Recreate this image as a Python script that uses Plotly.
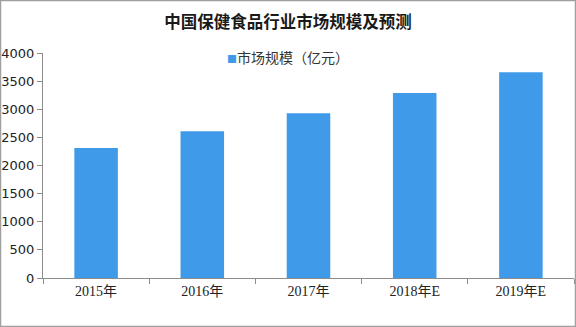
import plotly.graph_objects as go

categories = ["2015年", "2016年", "2017年", "2018年E", "2019年E"]
values = [2310, 2610, 2930, 3290, 3660]
y_ticks = [0, 500, 1000, 1500, 2000, 2500, 3000, 3500, 4000]
series_name = "市场规模（亿元）"
title_text = "中国保健食品行业市场规模及预测"
bar_color = "#3f9bea"

fig = go.Figure()
fig.add_trace(go.Bar(
    x=categories, y=values, name=series_name,
    marker=dict(color=bar_color, line=dict(width=0)),
    showlegend=False,
))

fig.update_layout(
    width=576, height=327,
    margin=dict(l=43, r=2, t=53, b=49),
    paper_bgcolor="white", plot_bgcolor="white",
    bargap=0.59,
    title=dict(text="<b>" + title_text + "</b>", x=0.5, xref="container", xanchor="center",
               y=1 - 22 / 327, yref="container", yanchor="middle",
               font=dict(family="Noto Sans CJK SC", size=16.5, color="#1a1a1a")),
    showlegend=False,
    annotations=[dict(
        text="<span style='color:%s;font-size:10px'>■</span>%s" % (bar_color, series_name),
        xref="paper", yref="paper", x=(225 - 43) / 531, y=(278 - 57) / 225,
        xanchor="left", yanchor="middle", showarrow=False,
        font=dict(family="Noto Sans CJK SC", size=14, color="#333333"),
    )],
    xaxis=dict(
        showline=True, linecolor="#8c8c8c", linewidth=1,
        ticks="outside", tickson="boundaries", ticklen=5, tickcolor="#8c8c8c",
        tickfont=dict(family="Liberation Serif, Noto Sans CJK SC", size=14, color="#222222"),
        showgrid=False,
    ),
    yaxis=dict(
        range=[0, 4000], tickvals=y_ticks,
        showline=True, linecolor="#8c8c8c", linewidth=1,
        ticks="outside", ticklen=5, tickcolor="#8c8c8c",
        tickfont=dict(family="DejaVu Sans", size=13, color="#222222"),
        showgrid=False, zeroline=False,
    ),
    shapes=[dict(type="rect", xref="paper", yref="paper",
                 x0=-42.5 / 531, x1=(576 - 43 - 0.5) / 531,
                 y0=-48.5 / 225, y1=(327 - 49 - 0.5) / 225,
                 line=dict(color="#a0a0a0", width=1.5), fillcolor="rgba(0,0,0,0)", layer="above")],
)

fig.write_html("out.html")
